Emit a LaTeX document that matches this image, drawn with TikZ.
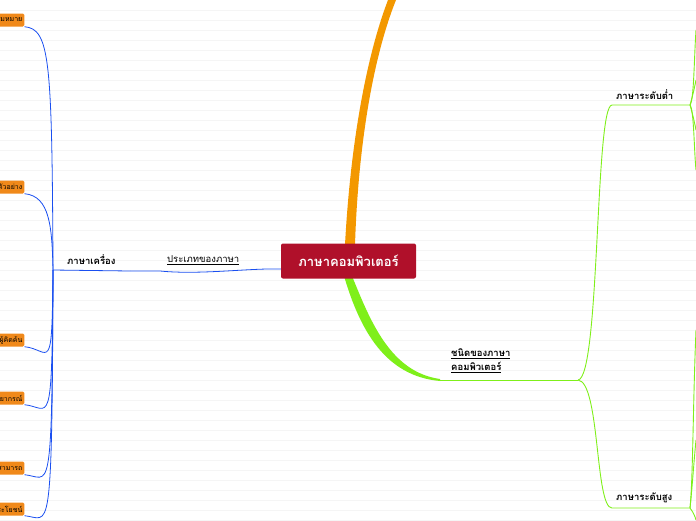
\documentclass[tikz,border=0pt]{standalone}
\usepackage{fontspec}
\newfontfamily\thai[Script=Thai]{Loma}
\definecolor{cred}{HTML}{B0102A}
\definecolor{corange}{HTML}{F39800}
\definecolor{cgreen}{HTML}{7FEF1A}
\definecolor{cblue}{HTML}{1A4FF0}
\definecolor{cbox}{HTML}{F0891A}
\begin{document}
\begin{tikzpicture}[x=1pt,y=-1pt,
  leaf/.style={fill=cbox,rounded corners=1.5pt,inner sep=2pt,font=\thai\fontsize{7}{8}\selectfont,anchor=east,minimum height=13pt},
  lbl/.style={font=\thai\bfseries\fontsize{9.5}{12}\selectfont,inner sep=1pt},
  bl/.style={cblue,line width=0.8pt},
  gr/.style={cgreen,line width=0.9pt}]
\useasboundingbox (0,0) rectangle (696,520);
\clip (0,0) rectangle (696,520);
\foreach \y in {10,20,...,520} \draw[black!4,line width=0.4pt] (0,\y) -- (696,\y);
% orange branch
\fill[corange] (345,245) .. controls (350,150) and (365,60) .. (388,0) -- (396,0) .. controls (372,60) and (358,150) .. (355,245) -- cycle;
% green branch
\fill[cgreen] (352,276) .. controls (370,320) and (390,372) .. (440,379) -- (440,381) .. controls (385,376) and (360,330) .. (344,276) -- cycle;
\coordinate (gj) at (578,380);
\draw[gr] (440,380) -- (gj);
\node[lbl,align=left,anchor=south west,font=\thai\bfseries\fontsize{9.5}{14}\selectfont] (t1) at (450,374) {\underline{ชนิดของภาษา}\\\underline{คอมพิวเตอร์}};
\coordinate (lo) at (690,105);
\coordinate (hi) at (690,508);
\draw[gr] (gj) .. controls (600,378) and (595,105) .. (612,105) -- (lo);
\draw[gr] (gj) .. controls (600,382) and (595,508) .. (612,508) -- (hi);
\node[lbl,anchor=south west] (low) at (615,101) {ภาษาระดับต่ำ};
\node[lbl,anchor=south west] (high) at (615,504) {ภาษาระดับสูง};
\draw[gr] (lo) .. controls (694,100) and (694,60) .. (696,30);
\draw[gr] (lo) .. controls (694,110) and (694,150) .. (696,170);
\draw[gr] (lo) .. controls (693,95) and (695,85) .. (696,80);
\draw[gr] (lo) .. controls (693,115) and (695,125) .. (696,130);
\draw[gr] (hi) .. controls (693,480) and (693,400) .. (696,330);
\draw[gr] (hi) .. controls (693,512) and (695,516) .. (696,520);
\draw[gr] (hi) .. controls (692,490) and (694,460) .. (696,440);
% center
\node[fill=cred,text=white,rounded corners=2pt,font=\thai\bfseries\fontsize{13}{15}\selectfont,minimum width=135pt,minimum height=35pt] (c) at (348.5,261) {ภาษาคอมพิวเตอร์};
% blue
\coordinate (bj) at (130,271);
\coordinate (bk) at (53,270);
\draw[bl] (c.west) ++(0,8) .. controls (250,268) and (200,275) .. (160,271) -- (bj);
\node[lbl,anchor=south west,font=\thai\fontsize{9.5}{12}\selectfont] (p) at (166,266) {\underline{ประเภทของภาษา}};
\draw[bl] (bj) -- (bk);
\node[lbl,anchor=south west] (m) at (66,266) {ภาษาเครื่อง};
\foreach \y/\t in {20/ความหมาย,187/ตัวอย่าง,340/ผู้คิดค้น,398/ไวยากรณ์,468/ความสามารถ,509/ประโยชน์}{
  \node[leaf] (b\y) at (24.5,\y) {\t};
  \draw[bl] (b\y.south east) .. controls (50,\y+9) and (52,\y+40) .. (bk);
}
\end{tikzpicture}
\end{document}
